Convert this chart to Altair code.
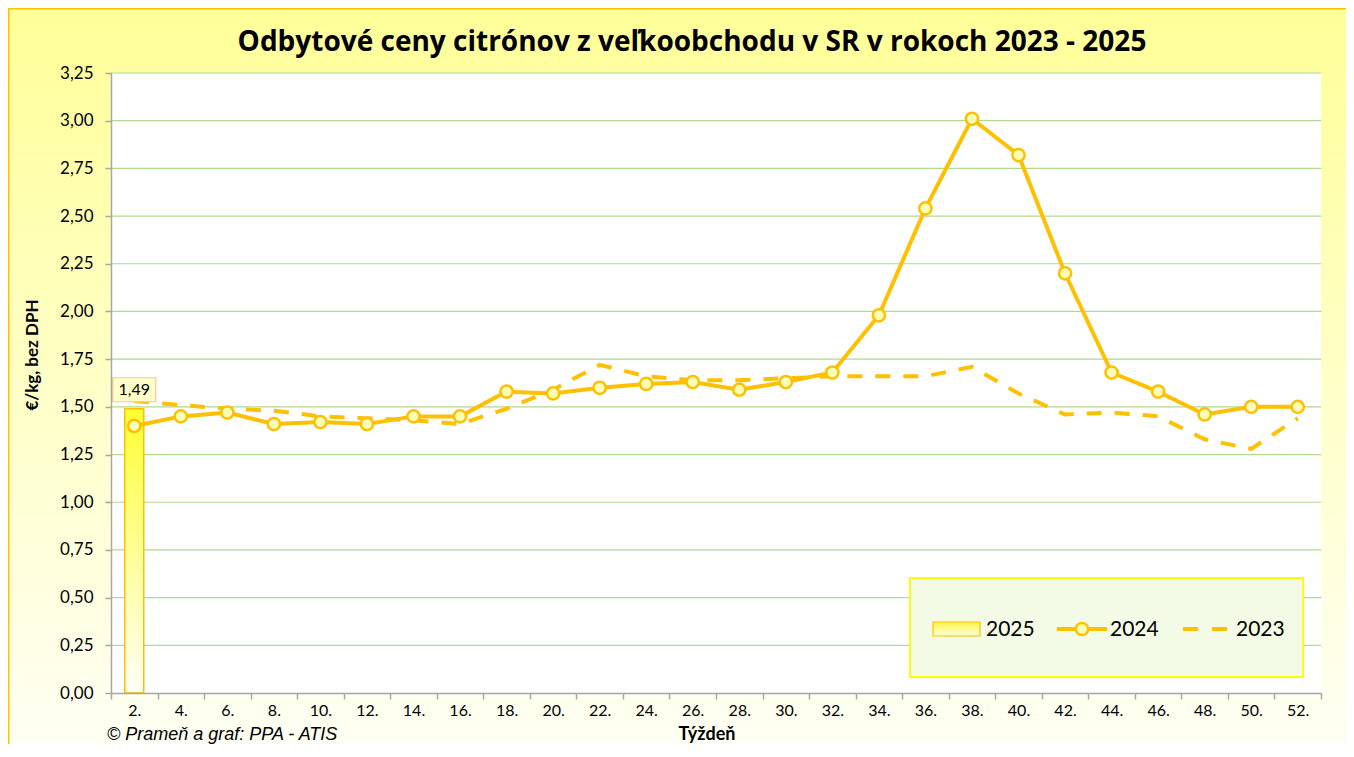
import altair as alt
import pandas as pd

# ---------------- data ----------------
weeks = [2, 4, 6, 8, 10, 12, 14, 16, 18, 20, 22, 24, 26, 28, 30, 32, 34, 36, 38, 40, 42, 44, 46, 48, 50, 52]
price_2024 = [1.40, 1.45, 1.47, 1.41, 1.42, 1.41, 1.45, 1.45, 1.58, 1.57, 1.60, 1.62, 1.63,
              1.59, 1.63, 1.68, 1.98, 2.54, 3.01, 2.82, 2.20, 1.68, 1.58, 1.46, 1.50, 1.50]
price_2023 = [1.53, 1.51, 1.49, 1.48, 1.45, 1.44, 1.43, 1.41, 1.49, 1.59, 1.72, 1.66, 1.64,
              1.64, 1.65, 1.66, 1.66, 1.66, 1.71, 1.57, 1.46, 1.47, 1.45, 1.33, 1.28, 1.44]
weeks_2025 = [2]
price_2025 = [1.49]
labels_2025 = ["1,49"]
y_ticks = [0.0, 0.25, 0.5, 0.75, 1.0, 1.25, 1.5, 1.75, 2.0, 2.25, 2.5, 2.75, 3.0, 3.25]
x_tick_positions = [1, 3, 5, 7, 9, 11, 13, 15, 17, 19, 21, 23, 25, 27, 29, 31, 33, 35, 37,
                    39, 41, 43, 45, 47, 49, 51, 53]
series_names = ["2025", "2024", "2023"]

TITLE = "Odbytové ceny citrónov z veľkoobchodu v SR v rokoch 2023 - 2025"
Y_TITLE = "€/kg, bez DPH"
X_TITLE = "Týždeň"
SOURCE = "© Prameň a graf: PPA - ATIS"

# ---------------- layout / style ----------------
W, H = 1210, 620
PAD_L, PAD_T, PAD_R, PAD_B = 103, 65, 25, 51
FONT = "Lato"
ORANGE = "#FFC000"
GRID = "#B0DA8E"
AXISC = "#A6A6A6"

df = pd.DataFrame({"week": weeks, "p2024": price_2024, "p2023": price_2023})
df25 = pd.DataFrame({"week": weeks_2025, "p2025": price_2025, "lab": labels_2025})
grid_df = pd.DataFrame({"tick": [t for t in y_ticks if t > 0]})
dummy = alt.Data(values=[{"a": 1}])

x_scale = alt.Scale(domain=[1, 53], nice=False, zero=False, padding=0)
y_scale = alt.Scale(domain=[0, 3.25], nice=False, zero=True, padding=0)

x_axis = alt.Axis(
    values=x_tick_positions,
    labelExpr="datum.value < 52 ? (datum.value + 1) + '.' : ''",
    labelOffset=W / 52,
    labelOverlap=False,
    labelFlush=False,
    labelFontSize=16,
    tickSize=6,
    labelPadding=3,
    grid=False,
    zindex=1,
)
y_axis = alt.Axis(
    values=y_ticks,
    labelExpr="replace(format(datum.value, '.2f'), '.', ',')",
    labelOverlap=False,
    labelFontSize=17,
    tickSize=6,
    labelPadding=12,
    grid=False,
    zindex=1,
)


def X(field):
    return alt.X(field, type="quantitative", scale=x_scale, axis=x_axis, title=None)


def Y(field):
    return alt.Y(field, type="quantitative", scale=y_scale, axis=y_axis, title=None)


def grad(top, bottom):
    return alt.LinearGradient(
        gradient="linear",
        stops=[alt.GradientStop(offset=0, color=top), alt.GradientStop(offset=1, color=bottom)],
        x1=0, x2=0, y1=0, y2=1,
    )


# background of whole chart (gradient) and border
bg = alt.Chart(dummy).mark_rect(fill=grad("#FFFF99", "#FFFFF4")).encode(
    x=alt.value(-PAD_L), x2=alt.value(W + PAD_R + 5),
    y=alt.value(-PAD_T), y2=alt.value(H + PAD_B + 5),
)
border_left = alt.Chart(dummy).mark_rule(color=ORANGE, strokeWidth=3).encode(
    x=alt.value(-PAD_L), y=alt.value(-PAD_T), y2=alt.value(H + PAD_B + 5)
)
border_top = alt.Chart(dummy).mark_rule(color=ORANGE, strokeWidth=3).encode(
    x=alt.value(-PAD_L), x2=alt.value(W + PAD_R + 5), y=alt.value(-PAD_T)
)
plot_bg = alt.Chart(dummy).mark_rect(fill="white").encode(
    x=alt.value(0), x2=alt.value(W), y=alt.value(0), y2=alt.value(H)
)

gridlines = alt.Chart(grid_df).mark_rule(color=GRID, strokeWidth=1.2).encode(
    x=alt.value(0), x2=alt.value(W), y=Y("tick")
)

bar25 = alt.Chart(df25).mark_bar(
    size=19, fill=grad("#FFFF33", "#FFFFF6"), stroke=ORANGE, strokeWidth=1.5
).encode(x=X("week"), y=Y("p2025"))

line23 = alt.Chart(df).mark_line(
    color=ORANGE, strokeWidth=4, strokeDash=[15, 13]
).encode(x=X("week"), y=Y("p2023"))

line24 = alt.Chart(df).mark_line(color=ORANGE, strokeWidth=4).encode(
    x=X("week"), y=Y("p2024")
)
pts24 = alt.Chart(df).mark_point(
    shape="circle", size=150, filled=True, fill="#FFFFB8", stroke=ORANGE,
    strokeWidth=2.5, opacity=1
).encode(x=X("week"), y=Y("p2024"))

# data label of 2025 bar
lab_box = alt.Chart(df25).mark_point(
    shape="M-1,-0.558L1,-0.558L1,0.558L-1,0.558Z", size=43 * 43, filled=True,
    fill="#FFFFC8", stroke="#F9C89A", strokeWidth=1.2, opacity=1, yOffset=-19
).encode(x=X("week"), y=Y("p2025"))
lab_txt = alt.Chart(df25).mark_text(
    font=FONT, fontSize=16, color="#000000", dy=-19, baseline="middle", align="center"
).encode(x=X("week"), y=Y("p2025"), text="lab:N")

# legend (custom drawn)
LX, LY = 799, 505
leg_box = alt.Chart(dummy).mark_rect(fill="#F3FBE6", stroke="#FFFF00", strokeWidth=2).encode(
    x=alt.value(LX), x2=alt.value(LX + 393), y=alt.value(LY), y2=alt.value(LY + 99)
)
leg_bar = alt.Chart(dummy).mark_rect(fill=grad("#FFF34A", "#FFFFD6"), stroke=ORANGE, strokeWidth=1.2).encode(
    x=alt.value(LX + 23), x2=alt.value(LX + 70), y=alt.value(LY + 44), y2=alt.value(LY + 58)
)
leg_line24 = alt.Chart(dummy).mark_rule(color=ORANGE, strokeWidth=4).encode(
    x=alt.value(LX + 147), x2=alt.value(LX + 197), y=alt.value(LY + 51)
)
leg_pt24 = alt.Chart(dummy).mark_point(
    shape="circle", size=150, filled=True, fill="#FFFFB8", stroke=ORANGE, strokeWidth=2.5, opacity=1
).encode(x=alt.value(LX + 172), y=alt.value(LY + 51))
leg_line23 = alt.Chart(dummy).mark_rule(color=ORANGE, strokeWidth=4, strokeDash=[15, 14]).encode(
    x=alt.value(LX + 273), x2=alt.value(LX + 318), y=alt.value(LY + 51)
)
leg_texts = []
for name, dx in zip(series_names, [76, 200, 326]):
    leg_texts.append(
        alt.Chart(dummy).mark_text(font=FONT, fontSize=21, color="#000000", align="left", baseline="middle").encode(
            x=alt.value(LX + dx), y=alt.value(LY + 52), text=alt.value(name)
        )
    )

# titles
title_t = alt.Chart(dummy).mark_text(
    font="Open Sans", fontSize=28, fontWeight="bold", color="#000000", align="center", baseline="middle"
).encode(x=alt.value(581), y=alt.value(-30), text=alt.value(TITLE))
ytitle_t = alt.Chart(dummy).mark_text(
    font=FONT, fontSize=17, fontWeight="bold", color="#000000", align="center", baseline="middle", angle=270
).encode(x=alt.value(-78), y=alt.value(282), text=alt.value(Y_TITLE))
xtitle_t = alt.Chart(dummy).mark_text(
    font=FONT, fontSize=18, fontWeight="bold", color="#000000", align="center", baseline="bottom"
).encode(x=alt.value(596), y=alt.value(H + PAD_B), text=alt.value(X_TITLE))
source_t = alt.Chart(dummy).mark_text(
    font="Liberation Sans", fontSize=18, fontStyle="italic", color="#000000", align="left", baseline="bottom"
).encode(x=alt.value(-4), y=alt.value(H + PAD_B), text=alt.value(SOURCE))

chart = alt.layer(
    bg, border_left, border_top, plot_bg, gridlines, bar25, line23, line24, pts24,
    lab_box, lab_txt, leg_box, leg_bar, leg_line24, leg_pt24, leg_line23, *leg_texts,
    title_t, ytitle_t, xtitle_t, source_t,
).properties(
    width=W, height=H,
    padding={"left": PAD_L, "top": PAD_T, "right": PAD_R, "bottom": PAD_B},
    autosize=alt.AutoSizeParams(type="none"),
    background="#FFFFF4",
).configure_view(stroke=None).configure_axis(
    labelFont=FONT, labelColor="#000000",
    domainColor=AXISC, domainWidth=1.5, tickColor=AXISC, tickWidth=1.5,
)

chart.save("out.html", embed_options={"renderer": "svg", "actions": False})
